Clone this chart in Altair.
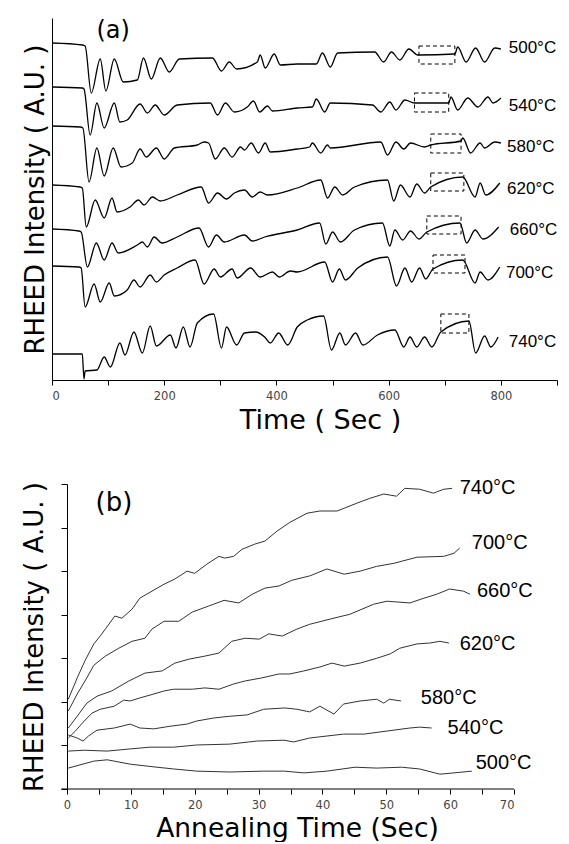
import altair as alt
import pandas as pd

# ---------------- Panel (a): RHEED intensity during growth ----------------
a_names = ["500°C", "540°C", "580°C", "620°C", "660°C", "700°C", "740°C"]

a500_t = [0, 54, 59, 70, 86, 96, 111, 127, 152, 163, 177, 193, 209, 227, 286, 302, 316, 329, 366, 371, 380, 396, 407, 437, 471,
          482, 496, 509, 575, 591, 605, 620, 636, 652, 718, 723, 738, 755, 771, 789, 800]
a500_i = [337, 335, 334, 287, 321, 289, 321, 298, 300, 322, 301, 322, 308, 321, 322, 309, 318, 311, 318, 325, 312, 326, 315, 316, 316,
          327, 313, 327, 328, 318, 328, 320, 331, 325, 326, 333, 318, 332, 318, 332, 331]

a540_t = [0, 54, 57, 68, 80, 93, 111, 121, 134, 157, 170, 184, 200, 223, 282, 295, 309, 325, 348, 359, 370, 384, 393, 437, 464,
          471, 486, 496, 571, 586, 602, 613, 629, 646, 707, 711, 723, 741, 759, 777, 786, 800]
a540_i = [293, 292, 291, 245, 277, 252, 277, 258, 260, 276, 267, 275, 265, 275, 277, 265, 277, 268, 273, 279, 268, 274, 269, 272, 273,
          281, 268, 277, 275, 268, 278, 270, 280, 277, 277, 283, 270, 282, 273, 283, 277, 282]

a580_t = [0, 50, 55, 66, 80, 93, 109, 123, 143, 157, 168, 186, 200, 218, 259, 271, 279, 291, 307, 321, 336, 343, 355, 368, 380,
          389, 437, 459, 464, 479, 491, 496, 586, 598, 613, 627, 639, 664, 675, 729, 732, 746, 763, 771, 789, 800]
a580_i = [254, 253, 252, 198, 232, 204, 232, 213, 217, 231, 223, 232, 221, 232, 235, 238, 237, 221, 232, 223, 233, 230, 237, 227, 237,
          228, 231, 233, 237, 227, 235, 232, 238, 225, 238, 231, 237, 233, 235, 239, 242, 227, 237, 232, 238, 237]

a620_t = [0, 50, 54, 61, 77, 93, 107, 116, 139, 154, 164, 179, 193, 223, 266, 279, 295, 311, 325, 343, 357, 371, 384, 437, 479,
          491, 504, 518, 539, 598, 609, 621, 638, 650, 664, 675, 732, 754, 763, 773, 798]
a620_i = [195, 193, 192, 153, 180, 162, 182, 168, 173, 180, 175, 183, 179, 185, 193, 177, 187, 181, 187, 190, 183, 188, 185, 192, 200,
          182, 193, 185, 193, 200, 179, 195, 183, 196, 187, 193, 203, 183, 197, 185, 197]

a660_t = [0, 48, 52, 63, 79, 93, 107, 118, 152, 161, 170, 182, 196, 223, 262, 279, 293, 307, 343, 357, 379, 437, 477, 488, 500,
          514, 539, 589, 602, 611, 625, 639, 654, 668, 727, 739, 754, 768, 796]
a660_i = [151, 149, 148, 113, 137, 120, 137, 127, 135, 138, 133, 143, 137, 143, 152, 133, 145, 138, 145, 139, 143, 150, 157, 136, 148,
          138, 150, 157, 134, 150, 140, 149, 141, 148, 157, 137, 150, 141, 153]

a700_t = [0, 48, 52, 59, 75, 86, 102, 111, 134, 146, 157, 175, 186, 200, 223, 255, 271, 289, 300, 321, 330, 354, 371, 393, 405,
          425, 437, 486, 500, 512, 523, 545, 598, 614, 629, 641, 655, 666, 679, 732, 754, 763, 777, 798]
a700_i = [114, 113, 112, 73, 96, 78, 97, 84, 90, 100, 93, 105, 98, 105, 112, 120, 96, 111, 103, 111, 102, 112, 103, 108, 103,
          109, 108, 118, 98, 111, 100, 112, 123, 94, 112, 98, 112, 101, 111, 120, 97, 108, 100, 113]

a740_t = [0, 54, 57, 59, 80, 93, 104, 121, 130, 146, 161, 175, 186, 211, 221, 234, 246, 259, 288, 302, 311, 329, 343, 363, 379,
          389, 404, 420, 437, 455, 484, 498, 513, 523, 541, 554, 580, 611, 627, 638, 650, 664, 677, 693, 743, 755, 771, 782, 795]
a740_i = [26, 26, 1, 9, 10, 23, 13, 37, 25, 48, 27, 54, 34, 45, 32, 53, 33, 57, 66, 32, 53, 35, 47, 48, 43,
          37, 47, 35, 53, 60, 64, 30, 47, 35, 47, 35, 45, 50, 33, 43, 33, 43, 33, 48, 59, 27, 44, 33, 43]

# dashed boxes marking the annealing intervals
box_t0 = [654, 646, 675, 675, 668, 679, 693]
box_t1 = [718, 707, 729, 734, 729, 736, 743]
box_i0 = [316, 268, 227, 189, 146, 107, 47]
box_i1 = [334, 287, 246, 207, 164, 125, 66]

# temperature labels (a)
a_lab_t = [814, 814, 811, 811, 816, 809, 814]
a_lab_i = [332, 274, 233, 191, 150, 107, 38]

# ---------------- Panel (b): annealing recovery ----------------
b500_t = [0.2, 4.2, 6.3, 9.9, 14.1, 16.7, 20.3, 25.5, 30.8, 34.0, 37.1, 40.7, 45.1, 48.5, 52.4, 55.2, 58.4, 60.6, 63.4]
b500_v = [0.48, 0.64, 0.67, 0.57, 0.50, 0.46, 0.41, 0.39, 0.41, 0.41, 0.37, 0.41, 0.50, 0.48, 0.50, 0.46, 0.34, 0.37, 0.41]

b540_t = [0.2, 2.7, 6.3, 9.9, 13.0, 16.7, 20.3, 25.5, 29.7, 34.0, 35.5, 38.0, 43.3, 46.5, 50.1, 53.7, 55.2, 57.1]
b540_v = [0.87, 0.89, 0.87, 0.92, 0.96, 0.96, 1.01, 1.03, 1.10, 1.12, 1.08, 1.17, 1.26, 1.26, 1.33, 1.40, 1.42, 1.40]

b580_t = [0.2, 1.6, 2.5, 3.4, 4.7, 7.4, 9.9, 11.4, 13.6, 16.1, 18.8, 20.3, 23.0, 25.5, 28.2, 30.8, 34.1, 36.0, 38.0, 39.6,
          41.8, 43.3, 45.9, 48.5, 49.6, 50.5, 52.3]
b580_v = [1.24, 1.17, 1.10, 1.22, 1.35, 1.40, 1.49, 1.40, 1.38, 1.44, 1.49, 1.56, 1.63, 1.67, 1.70, 1.83, 1.86, 1.83, 1.77, 1.90,
          1.72, 1.95, 2.02, 2.06, 1.97, 2.06, 2.02]

b620_t = [0.2, 1.3, 2.7, 3.9, 5.2, 7.4, 8.9, 9.9, 11.4, 13.6, 15.2, 16.7, 19.6, 21.6, 23.8, 26.1, 27.9, 30.5, 33.2, 34.9,
          37.1, 39.6, 41.5, 43.4, 45.9, 48.5, 50.6, 52.1, 54.8, 56.8, 58.4, 59.8]
b620_v = [1.17, 1.33, 1.56, 1.74, 1.83, 1.90, 2.04, 2.02, 2.09, 2.18, 2.25, 2.29, 2.29, 2.32, 2.29, 2.41, 2.48, 2.55, 2.64, 2.64,
          2.71, 2.80, 2.89, 2.82, 2.89, 3.00, 3.10, 3.23, 3.33, 3.35, 3.39, 3.35]

b660_t = [0.2, 1.6, 3.1, 4.7, 7.0, 9.7, 12.2, 14.9, 16.9, 19.1, 21.6, 23.8, 25.8, 27.9, 30.1, 31.6, 33.7, 36.0, 38.0, 41.2,
          44.3, 48.0, 50.1, 53.7, 55.9, 57.9, 59.9, 62.1, 63.1]
b660_v = [1.40, 1.67, 1.97, 2.13, 2.25, 2.48, 2.66, 2.71, 2.89, 2.98, 3.05, 3.12, 3.39, 3.46, 3.44, 3.56, 3.51, 3.67, 3.78, 3.90,
          4.01, 4.24, 4.31, 4.27, 4.38, 4.47, 4.59, 4.54, 4.47]

b700_t = [0.2, 1.6, 3.1, 4.2, 6.0, 8.1, 10.2, 12.2, 13.3, 15.2, 17.5, 19.6, 22.2, 24.6, 26.9, 29.0, 31.0, 33.2, 35.2, 38.0,
          40.7, 43.4, 45.9, 48.5, 51.2, 54.8, 59.0, 60.6, 61.5]
b700_v = [1.79, 2.18, 2.55, 2.84, 3.05, 3.23, 3.39, 3.46, 3.67, 3.85, 3.85, 4.06, 4.20, 4.33, 4.27, 4.47, 4.61, 4.66, 4.79, 4.89,
          5.05, 4.93, 5.00, 5.11, 5.18, 5.32, 5.34, 5.41, 5.53]

b740_t = [0.2, 1.6, 2.8, 4.2, 5.3, 6.0, 7.5, 8.6, 10.2, 11.4, 13.3, 15.2, 16.9, 18.8, 20.0, 21.9, 23.8, 24.7, 26.1, 27.4,
          29.4, 31.0, 32.9, 34.9, 37.6, 39.6, 42.3, 45.4, 47.4, 49.6, 51.6, 52.9, 55.2, 57.4, 59.0, 60.3]
b740_v = [2.06, 2.55, 2.94, 3.33, 3.53, 3.67, 3.97, 3.92, 4.13, 4.38, 4.54, 4.70, 4.82, 5.00, 4.95, 5.16, 5.34, 5.30, 5.34, 5.50,
          5.62, 5.69, 5.92, 6.12, 6.33, 6.38, 6.38, 6.56, 6.67, 6.77, 6.72, 6.90, 6.88, 6.79, 6.88, 6.90]

b_lab_t = [64.0, 59.6, 55.4, 61.5, 64.2, 63.4, 61.5]
b_lab_v = [0.60, 1.40, 2.09, 3.33, 4.54, 5.64, 6.90]

# ---------------- build tables ----------------
a_t = [a500_t, a540_t, a580_t, a620_t, a660_t, a700_t, a740_t]
a_i = [a500_i, a540_i, a580_i, a620_i, a660_i, a700_i, a740_i]
rows = []
for name, ts, vs in zip(a_names, a_t, a_i):
    for k, (tt, vv) in enumerate(zip(ts, vs)):
        rows.append({"s": name, "t": tt, "i": vv, "k": k})
df_a = pd.DataFrame(rows)
df_box = pd.DataFrame({"t": box_t0, "t2": box_t1, "i": box_i0, "i2": box_i1})
df_alab = pd.DataFrame({"t": a_lab_t, "i": a_lab_i, "label": a_names})
df_atag = pd.DataFrame({"t": [109], "i": [349], "label": ["(a)"]})

b_t = [b500_t, b540_t, b580_t, b620_t, b660_t, b700_t, b740_t]
b_v = [b500_v, b540_v, b580_v, b620_v, b660_v, b700_v, b740_v]
rows = []
for name, ts, vs in zip(a_names, b_t, b_v):
    for k, (tt, vv) in enumerate(zip(ts, vs)):
        rows.append({"s": name, "t": tt, "v": vv, "k": k})
df_b = pd.DataFrame(rows)
df_blab = pd.DataFrame({"t": b_lab_t, "v": b_lab_v, "label": a_names})
df_btag = pd.DataFrame({"t": [7.36], "v": [6.56], "label": ["(b)"]})
df_baxis = pd.DataFrame({"t": [-0.9], "t2": [70], "v": [0]})

TITLE_FONT = "DejaVu Sans"

# ---------------- panel (a) ----------------
xa = alt.X("t:Q", scale=alt.Scale(domain=[0, 900], nice=False, zero=False),
           axis=alt.Axis(values=list(range(0, 901, 100)),
                         labelExpr="datum.value % 200 == 0 ? datum.label : ''",
                         format="d", tickSize=5, labelPadding=5,
                         title="Time ( Sec )", titleFontSize=27,
                         titleX=268, titleY=48, titleBaseline="alphabetic", titleAlign="center"))
ya = alt.Y("i:Q", scale=alt.Scale(domain=[0, 362], nice=False),
           axis=alt.Axis(ticks=False, labels=False, title="RHEED Intensity ( A.U. )",
                         titleFontSize=26, titlePadding=4))

lines_a = alt.Chart(df_a).mark_line(color="black", strokeWidth=1.3, interpolate="monotone").encode(
    x=xa, y=ya, detail="s:N", order="k:Q")
boxes_a = alt.Chart(df_box).mark_rect(fillOpacity=0, stroke="black", strokeWidth=1,
                                      strokeDash=[4, 3]).encode(x=xa, x2="t2:Q", y=ya, y2="i2:Q")
labels_a = alt.Chart(df_alab).mark_text(align="left", baseline="middle", font="Liberation Sans",
                                        fontSize=17, color="black").encode(x=xa, y=ya, text="label:N")
tag_a = alt.Chart(df_atag).mark_text(align="center", baseline="middle", font=TITLE_FONT,
                                     fontSize=24, color="black").encode(x=xa, y=ya, text="label:N")
panel_a = alt.layer(lines_a, boxes_a, labels_a, tag_a).properties(width=505, height=362)

# ---------------- panel (b) ----------------
xb = alt.X("t:Q", scale=alt.Scale(domain=[-2.35, 70], nice=False, zero=False),
           axis=alt.Axis(values=list(range(0, 71, 5)),
                         labelExpr="datum.value % 10 == 0 ? datum.label : ''",
                         format="d", tickSize=5, labelPadding=5, domain=False,
                         title="Annealing Time (Sec)", titleFontSize=26.5,
                         titleX=245, titleY=47, titleBaseline="alphabetic", titleAlign="center"))
yb = alt.Y("v:Q", scale=alt.Scale(domain=[0, 7], nice=False),
           axis=alt.Axis(values=list(range(0, 8)), labels=False, tickSize=6, offset=-15,
                         title="RHEED Intensity ( A.U. )", titleFontSize=26, titlePadding=13))

lines_b = alt.Chart(df_b).mark_line(color="#333", strokeWidth=1).encode(
    x=xb, y=yb, detail="s:N", order="k:Q")
axis_b = alt.Chart(df_baxis).mark_rule(color="black", strokeWidth=1).encode(x=xb, x2="t2:Q", y=yb)
labels_b = alt.Chart(df_blab).mark_text(align="left", baseline="middle", font="Liberation Sans",
                                        fontSize=20, color="black").encode(x=xb, y=yb, text="label:N")
tag_b = alt.Chart(df_btag).mark_text(align="center", baseline="middle", font=TITLE_FONT,
                                     fontSize=26, color="black").encode(x=xb, y=yb, text="label:N")
panel_b = alt.layer(lines_b, axis_b, labels_b, tag_b).properties(width=462, height=305)

chart = alt.vconcat(panel_a, panel_b, spacing=104, bounds="flush").properties(
    padding={"left": 13, "top": 10, "right": 0, "bottom": 0}
).configure_view(stroke=None).configure_axis(
    grid=False, domainColor="black", tickColor="black", labelColor="#444",
    labelFont="DejaVu Sans", labelFontSize=11.5, titleFont=TITLE_FONT,
    titleFontWeight="normal", titleColor="black"
)

chart.save("out.html", embed_options={"renderer": "svg", "actions": False})
